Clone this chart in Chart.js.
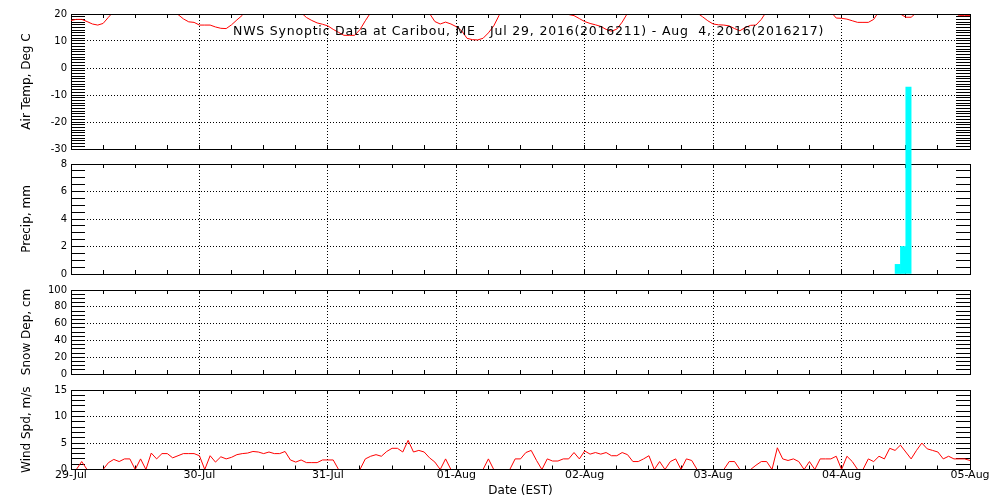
<!DOCTYPE html>
<html>
<head>
<meta charset="utf-8">
<script src="https://cdn.jsdelivr.net/npm/chart.js@4/dist/chart.umd.min.js"></script>
<style>
  body { margin: 0; background: #fff; }
  #wrap { position: relative; width: 1000px; height: 500px; overflow: hidden; }
  #wrap canvas { position: absolute; left: 0; top: 0; }
  #title {
    position: absolute; left: 233px; top: 24px;
    font: 12.5px "DejaVu Sans"; line-height: 14px; letter-spacing: 0.8px;
    white-space: pre; color: #000;
  }
</style>
</head>
<body>
<div id="wrap">
  <canvas id="cTemp" width="1000" height="500"></canvas>
  <canvas id="cSnow" width="1000" height="500"></canvas>
  <canvas id="cWind" width="1000" height="500"></canvas>
  <canvas id="cPrecip" width="1000" height="500"></canvas>
  <div id="title">NWS Synoptic Data at Caribou, ME   Jul 29, 2016(2016211) - Aug  4, 2016(2016217)</div>
</div>
<script>
// hourly obs, hour 0 = 29-Jul 00:00 EST
const dayLabels = ['29-Jul', '30-Jul', '31-Jul', '01-Aug', '02-Aug', '03-Aug', '04-Aug', '05-Aug']

const airTemp = [
    17.6, 18.0, 18.0, 17.2, 16.3, 15.9, 16.5, 18.8, 21.0, 22.5, 23.5, 24.5, 25.5, 26.0, 26.0, 25.5, 25.0, 24.0, 23.0, 21.5, 19.8, 18.2, 17.1, 16.9,
    15.9, 15.9, 15.9, 15.2, 14.7, 14.6, 16.0, 17.8, 19.5, 21.5, 23.0, 24.5, 25.5, 26.5, 27.0, 27.0, 26.0, 24.5, 22.5, 20.5, 18.7, 17.6, 16.7, 16.2,
    15.6, 14.3, 13.2, 12.1, 12.1, 12.1, 14.2, 17.5, 20.5, 22.5, 24.0, 25.5, 26.5, 27.0, 27.0, 26.0, 24.5, 23.0, 21.0, 20.2, 17.2, 16.3, 17.0, 16.3,
    15.3, 13.8, 11.0, 10.5, 10.4, 11.0, 13.0, 15.6, 19.5, 21.5, 23.0, 24.5, 25.5, 26.5, 27.0, 27.0, 26.0, 25.0, 23.5, 22.0, 20.5, 19.8, 19.4, 18.3,
    17.2, 16.5, 16.0, 15.4, 14.3, 13.6, 14.4, 17.0, 20.3, 22.0, 23.5, 25.0, 26.0, 27.0, 27.5, 27.5, 27.0, 26.0, 24.5, 23.0, 21.5, 20.4, 19.0, 17.5,
    16.3, 16.0, 15.9, 15.6, 14.6, 13.8, 15.0, 15.8, 15.9, 18.0, 21.0, 23.0, 24.5, 26.0, 27.0, 27.5, 27.5, 27.0, 26.0, 24.5, 23.0, 22.0, 20.8, 18.5,
    18.4, 18.1, 17.5, 16.9, 16.9, 16.9, 18.0, 21.0, 22.5, 22.0, 21.0, 20.0, 18.8, 18.8, 20.5, 22.0, 23.0, 23.5, 23.5, 23.0, 22.0, 20.5, 19.4, 19.4,
    19.4
]

const windSpd = [
    0, 0, 1.5, 0, 0, 0, 0, 1.3, 1.9, 1.5, 2.0, 2.0, 0, 2.0, 0, 3.1, 2.0, 3.0, 3.0, 2.2, 2.6, 3.0, 3.0, 3.0,
    2.6, 0, 2.6, 1.4, 2.4, 2.0, 2.3, 2.8, 3.0, 3.1, 3.4, 3.3, 3.0, 3.3, 3.0, 3.0, 3.4, 1.8, 1.4, 1.8, 1.3, 1.3, 1.3, 1.8,
    1.8, 1.8, 0, 0, 0, 0, 0, 2.0, 2.5, 2.8, 2.5, 3.4, 4.0, 4.0, 3.3, 5.5, 3.3, 3.6, 3.3, 2.2, 1.4, 0, 2.0, 0,
    0, 0, 0, 0, 0, 0, 2.0, 0, 0, 0, 0, 2.0, 2.0, 3.2, 3.6, 1.7, 0, 2.0, 1.6, 1.6, 2.0, 2.0, 3.2, 2.0,
    3.5, 2.9, 3.2, 2.9, 3.2, 2.6, 2.6, 3.2, 2.8, 1.5, 1.5, 2.0, 2.6, 0, 1.5, 0, 1.5, 2.0, 0, 2.0, 1.7, 0, 0, 0,
    0, 0, 0, 1.5, 1.5, 0, 0, 0, 0.8, 1.5, 1.5, 0, 4.1, 2.0, 1.7, 2.0, 1.5, 0, 1.5, 0, 2.0, 2.0, 2.0, 2.5,
    0, 2.5, 1.5, 0, 0, 2.0, 1.5, 2.5, 2.0, 4.0, 3.6, 4.6, 3.3, 2.0, 3.6, 5.0, 3.9, 3.6, 3.3, 2.0, 2.5, 2.0, 2.0, 2.0,
    1.7
]

// precip totals, hour = end of the accumulation hour
const precipHours = [155, 156, 157]
const precipMm = [0.7, 2.0, 13.6]

const snowDepth = [] // no snow reports

const FONT = 'DejaVu Sans'
const NONE = 'rgba(0,0,0,0)'

function steps(min, max, step) {
    let out = []
    for (let v = min; v <= max + 1e-9; v += step) out.push(Math.round(v * 100) / 100)
    return out
}

function isMajor(v, major) {
    return Math.abs(v / major - Math.round(v / major)) < 1e-6
}

// no extra room for the end labels, panels sit where the padding says
function noPad(s) {
    s.paddingTop = 0
    s.paddingBottom = 0
    s.paddingLeft = 0
    s.paddingRight = 0
}

function yScales(min, max, minor, major, title) {
    const list = steps(min, max, minor)
    const setTicks = s => { s.ticks = list.map(v => ({ value: v })) }
    return {
        y: {
            position: 'left', min: min, max: max,
            afterBuildTicks: setTicks,
            afterFit: s => { s.width = 71; noPad(s) },
            ticks: {
                autoSkip: false, padding: 18, color: '#000',
                font: { family: FONT, size: 10 },
                callback: v => isMajor(v, major) ? String(v) : ''
            },
            grid: {
                color: c => (c.tick && isMajor(c.tick.value, major) && c.tick.value > min && c.tick.value < max) ? '#000' : NONE,
                tickColor: '#000', tickWidth: 1, tickLength: -14
            },
            border: { color: '#000', width: 1, dash: [1, 2] },
            title: {
                display: true, text: title, color: '#000',
                font: { family: FONT, size: 12 }, padding: { top: 20, bottom: 0 }
            }
        },
        y2: {
            position: 'right', min: min, max: max,
            afterBuildTicks: setTicks,
            afterFit: s => { s.width = 0; noPad(s) },
            ticks: { display: false, autoSkip: false },
            grid: { drawOnChartArea: false, tickColor: '#000', tickWidth: 1, tickLength: -14 },
            border: { color: '#000', width: 1 }
        }
    }
}

function xScales(bottom, showLabels, topZ) {
    const list = steps(0, 168, 6)
    const setTicks = s => { s.ticks = list.map(v => ({ value: v })) }
    return {
        x: {
            type: 'linear', position: 'bottom', min: 0, max: 168, offset: false,
            afterBuildTicks: setTicks,
            afterFit: s => { s.height = 500 - bottom; noPad(s) },
            ticks: {
                display: showLabels, autoSkip: false, maxRotation: 0, padding: 3, color: '#000',
                font: { family: FONT, size: 11 },
                callback: v => isMajor(v, 24) ? dayLabels[Math.round(v / 24)] : ''
            },
            grid: {
                offset: false,
                color: c => (c.tick && isMajor(c.tick.value, 24) && c.tick.value > 0 && c.tick.value < 168) ? '#000' : NONE,
                tickColor: '#000', tickWidth: 1, tickLength: -4
            },
            border: { color: '#000', width: 1, dash: [1, 2], z: 1 },
            title: {
                display: showLabels, text: 'Date (EST)', color: '#000',
                font: { family: FONT, size: 12 }, padding: { top: 0, bottom: 2 }
            }
        },
        x2: {
            type: 'linear', position: 'top', min: 0, max: 168, offset: false,
            afterBuildTicks: setTicks,
            afterFit: s => { s.height = 0; noPad(s) },
            ticks: { display: false, autoSkip: false },
            grid: { offset: false, drawOnChartArea: false, tickColor: '#000', tickWidth: 1, tickLength: -4 },
            border: { color: '#000', width: 1, z: topZ }
        }
    }
}

function redLine(values) {
    return {
        type: 'line',
        data: values.map((v, i) => ({ x: i, y: v })),
        borderColor: '#ff0000', borderWidth: 1,
        pointRadius: 0, tension: 0, fill: false
    }
}

function makeChart(id, datasets, top, bottom, yOpts, showX, topZ) {
    return new Chart(document.getElementById(id), {
        type: 'line',
        data: { datasets: datasets },
        options: {
            responsive: false, animation: false, devicePixelRatio: 1,
            layout: { padding: { top: top, right: 30, bottom: 0, left: 0 } },
            plugins: { legend: { display: false }, tooltip: { enabled: false } },
            scales: Object.assign(xScales(bottom, showX, topZ), yOpts)
        }
    })
}

makeChart('cTemp', [redLine(airTemp)], 14, 149,
    yScales(-30, 20, 1, 10, 'Air Temp, Deg C'), false, 1)

makeChart('cPrecip', [{
    type: 'bar',
    data: precipHours.map((h, i) => ({ x: h - 0.5, y: precipMm[i] })),
    backgroundColor: '#00ffff', borderWidth: 0,
    barPercentage: 1, categoryPercentage: 1, grouped: false,
    clip: false
}], 164, 274, yScales(0, 8, 0.5, 2, 'Precip, mm'), false, 0)

makeChart('cSnow', [redLine(snowDepth)], 290, 374,
    yScales(0, 100, 5, 20, 'Snow Dep, cm'), false, 1)

// half-pixel bottom so calm hours sit under the axis line
makeChart('cWind', [redLine(windSpd)], 390, 469.5,
    yScales(0, 15, 1, 5, 'Wind Spd, m/s'), true, 1)
</script>
</body>
</html>
